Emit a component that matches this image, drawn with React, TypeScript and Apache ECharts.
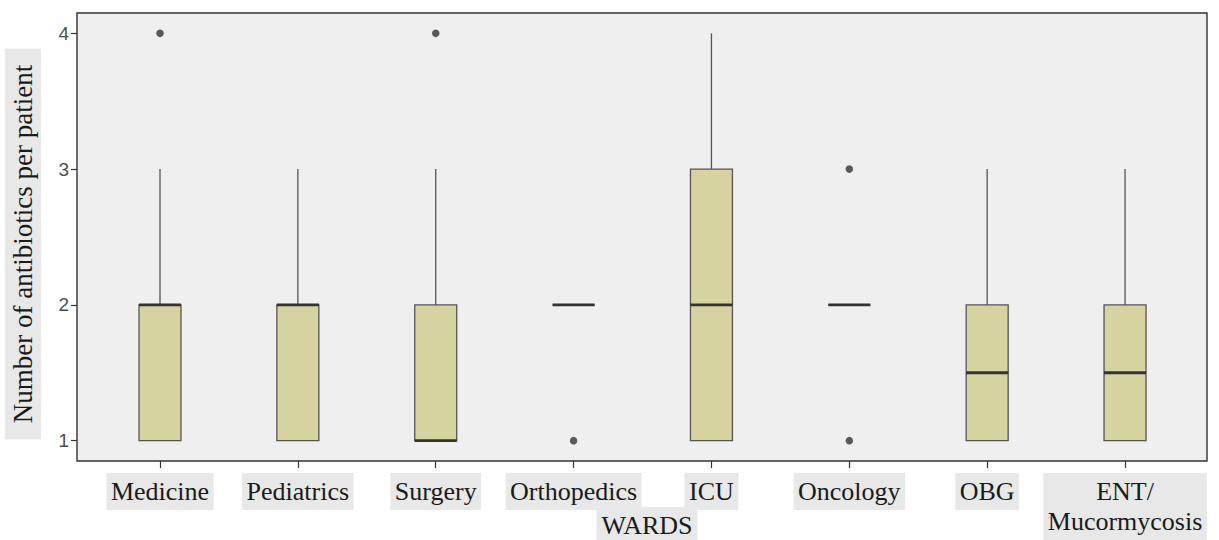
import React, { useEffect, useRef } from "react";
import * as echarts from "echarts";

const wards = [
  "Medicine",
  "Pediatrics",
  "Surgery",
  "Orthopedics",
  "ICU",
  "Oncology",
  "OBG",
  "ENT/\nMucormycosis",
];
const whiskerLow = [1, 1, 1, 2, 1, 2, 1, 1];
const quartile1 = [1, 1, 1, 2, 1, 2, 1, 1];
const medians = [2, 2, 1, 2, 2, 2, 1.5, 1.5];
const quartile3 = [2, 2, 2, 2, 3, 2, 2, 2];
const whiskerHigh = [3, 3, 3, 2, 4, 2, 3, 3];
const outlierWards = ["Medicine", "Surgery", "Orthopedics", "Oncology", "Oncology"];
const outlierValues = [4, 4, 1, 3, 1];
const yTicks = [1, 2, 3, 4];
const xTitle = "WARDS";
const yTitle = "Number of antibiotics per patient";

export default function App() {
  const ref = useRef<HTMLDivElement>(null);

  useEffect(() => {
    if (!ref.current) return;
    const chart = echarts.init(ref.current, undefined, { renderer: "svg" });

    const boxData = wards.map((_, i) => [
      i,
      whiskerLow[i],
      quartile1[i],
      medians[i],
      quartile3[i],
      whiskerHigh[i],
    ]);
    const outlierData = outlierWards.map((w, i) => [wards.indexOf(w), outlierValues[i]]);

    const BOX_W = 42;
    const serif = "'Liberation Serif', 'Times New Roman', serif";
    const sans = "'Liberation Sans', Arial, sans-serif";

    chart.setOption({
      animation: false,
      backgroundColor: "#ffffff",
      grid: { left: 91.07, right: 25.03, top: 13, bottom: 79, containLabel: false },
      graphic: [
        {
          type: "rect",
          z: -10,
          shape: { x: 77, y: 13, width: 1130, height: 448 },
          style: { fill: "#efefef", stroke: "#333333", lineWidth: 1.4 },
        },
        {
          type: "text",
          x: 23,
          y: 244,
          rotation: Math.PI / 2,
          style: {
            text: yTitle,
            fontSize: 27,
            fontFamily: serif,
            fill: "#1a1a1a",
            align: "center",
            verticalAlign: "middle",
            backgroundColor: "#e8e8e8",
            padding: [3, 16, 3, 16],
            lineHeight: 30,
          },
        },
        {
          type: "text",
          x: 647,
          y: 507,
          style: {
            text: xTitle,
            fontSize: 26,
            fontFamily: serif,
            fill: "#1a1a1a",
            align: "center",
            verticalAlign: "top",
            backgroundColor: "#e8e8e8",
            padding: [3, 5, 6, 5],
            lineHeight: 30,
          },
        },
      ],
      xAxis: {
        type: "category",
        data: wards,
        axisLine: { show: false },
        axisTick: {
          show: true,
          alignWithLabel: true,
          length: 7,
          lineStyle: { color: "#333333", width: 1.2 },
        },
        axisLabel: {
          interval: 0,
          margin: 12,
          fontSize: 26,
          fontFamily: serif,
          color: "#1a1a1a",
          backgroundColor: "#e8e8e8",
          padding: [3.5, 4.5, 3.5, 4.5],
          lineHeight: 30,
          align: "center",
        },
        splitLine: { show: false },
      },
      yAxis: {
        type: "value",
        min: 0.85,
        max: 4.15,
        offset: 14.07,
        axisLine: { show: false },
        axisTick: {
          show: true,
          length: 6,
          customValues: yTicks,
          lineStyle: { color: "#333333", width: 1.2 },
        },
        axisLabel: {
          customValues: yTicks,
          margin: 8,
          fontSize: 19,
          fontFamily: sans,
          color: "#4d4d4d",
        },
        splitLine: { show: false },
      },
      series: [
        {
          type: "custom",
          data: boxData,
          encode: { x: 0, y: [1, 2, 3, 4, 5] },
          renderItem: (params: any, api: any) => {
            const x = api.value(0);
            const lo = api.coord([x, api.value(1)]);
            const q1 = api.coord([x, api.value(2)]);
            const md = api.coord([x, api.value(3)]);
            const q3 = api.coord([x, api.value(4)]);
            const hi = api.coord([x, api.value(5)]);
            const cx = q1[0];
            const left = cx - BOX_W / 2;
            const whisk = { stroke: "#555555", lineWidth: 1.3 };
            return {
              type: "group",
              children: [
                { type: "line", shape: { x1: cx, y1: q3[1], x2: cx, y2: hi[1] }, style: whisk },
                { type: "line", shape: { x1: cx, y1: lo[1], x2: cx, y2: q1[1] }, style: whisk },
                {
                  type: "rect",
                  shape: { x: left, y: q3[1], width: BOX_W, height: q1[1] - q3[1] },
                  style: { fill: "#d6d3a0", stroke: "#555555", lineWidth: 1.3 },
                },
                {
                  type: "line",
                  shape: { x1: left, y1: md[1], x2: left + BOX_W, y2: md[1] },
                  style: { stroke: "#333333", lineWidth: 2.8 },
                },
              ],
            };
          },
        },
        {
          type: "scatter",
          data: outlierData,
          symbol: "circle",
          symbolSize: 7.5,
          itemStyle: { color: "#333333" },
        },
      ],
    });

    return () => chart.dispose();
  }, []);

  return (
    <div
      ref={ref}
      style={{ position: "fixed", left: 0, top: 0, width: 1219, height: 540 }}
    />
  );
}
